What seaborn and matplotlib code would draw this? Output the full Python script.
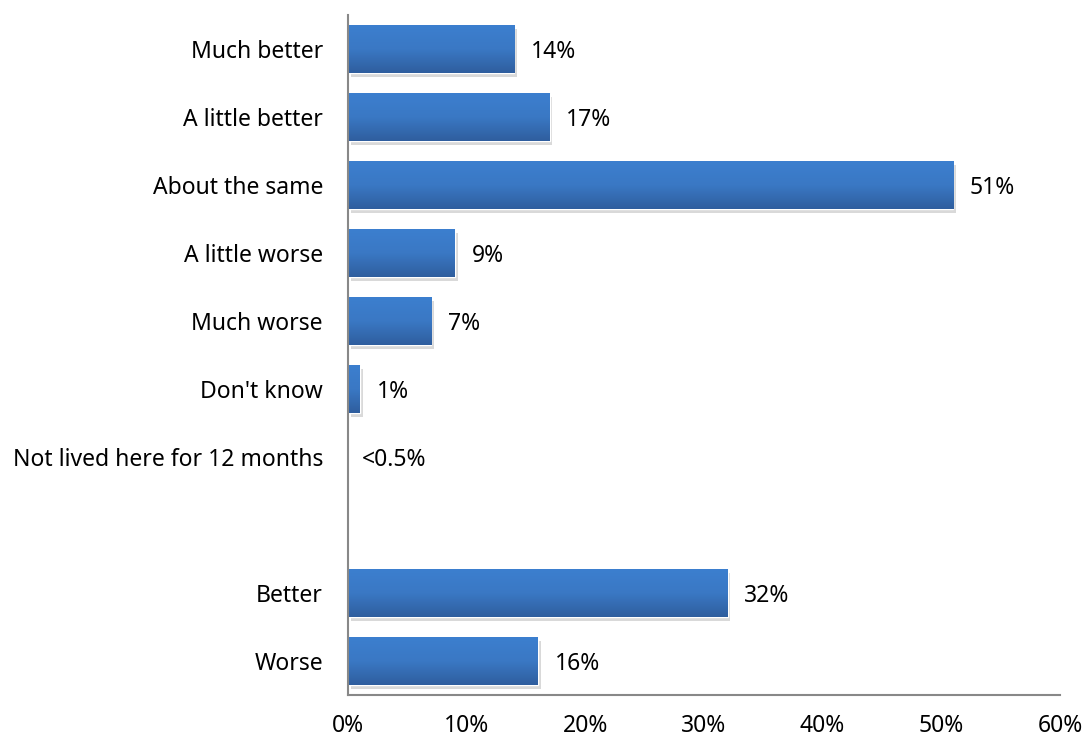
import numpy as np
import pandas as pd
import matplotlib
matplotlib.use("Agg")
import matplotlib.pyplot as plt
import matplotlib.patheffects as pe
from matplotlib.colors import LinearSegmentedColormap
import seaborn as sns

# ── Data ──────────────────────────────────────────────────────────────────────
categories = ["Much better", "A little better", "About the same", "A little worse",
              "Much worse", "Don't know", "Not lived here for 12 months", " ",
              "Better", "Worse"]
values = [14, 17, 51, 9, 7, 1, 0, np.nan, 32, 16]
value_labels = ["14%", "17%", "51%", "9%", "7%", "1%", "<0.5%", "", "32%", "16%"]
xticks = [0, 10, 20, 30, 40, 50, 60]

df = pd.DataFrame({"category": categories, "value": values})

sns.set_theme(style="white")
plt.rcParams["font.family"] = ["Noto Sans", "DejaVu Sans"]
FS = 16.5

fig = plt.figure(figsize=(10.86, 7.38), dpi=100)
ax = fig.add_axes([0.3204, 0.0583, 0.976 - 0.3204, 0.9797 - 0.0583])

sns.barplot(data=df, x="value", y="category", order=categories, orient="h",
            color="#3a7bc8", width=0.7, ax=ax, errorbar=None, saturation=1)

# gradient fill + soft shadow on each bar
cmap = LinearSegmentedColormap.from_list("bar", ["#3c7fcf", "#3a78c4", "#2f5e9e"])
grad = np.linspace(0, 1, 256).reshape(-1, 1)
for p in ax.patches:
    w = p.get_width()
    if not np.isfinite(w) or w <= 0:
        continue
    p.set_path_effects([pe.SimplePatchShadow(offset=(2, -3), alpha=0.2,
                                             shadow_rgbFace="#444444"), pe.Normal()])
    x0, y0 = p.get_x(), p.get_y()
    h = p.get_height()
    im = ax.imshow(grad, cmap=cmap, aspect="auto", interpolation="bicubic",
                   extent=[x0, x0 + w, y0 + h, y0], zorder=p.get_zorder() + 0.1)
    im.set_clip_path(p)

ax.set_xlim(0, 60)
ax.set_ylim(len(categories) - 0.5, -0.5)

for i, (v, lab) in enumerate(zip(values, value_labels)):
    if not lab:
        continue
    xv = 0 if not np.isfinite(v) else v
    ax.annotate(lab, (xv, i), xytext=(10 if xv == 0 else 12, 0), textcoords="offset points",
                va="center_baseline", ha="left", fontsize=FS, color="black")

ax.set_xticks(xticks)
ax.set_xticklabels([f"{t}%" for t in xticks], fontsize=FS)
ax.tick_params(axis="y", labelsize=FS, pad=18, length=0, labelcolor="black")
ax.tick_params(axis="x", pad=13.5, length=0, labelcolor="black")
ax.set_xlabel("")
ax.set_ylabel("")

for s in ["top", "right"]:
    ax.spines[s].set_visible(False)
for s in ["left", "bottom"]:
    ax.spines[s].set_color("#888888")
    ax.spines[s].set_linewidth(1.5)

fig.savefig("out.png", dpi=100)
